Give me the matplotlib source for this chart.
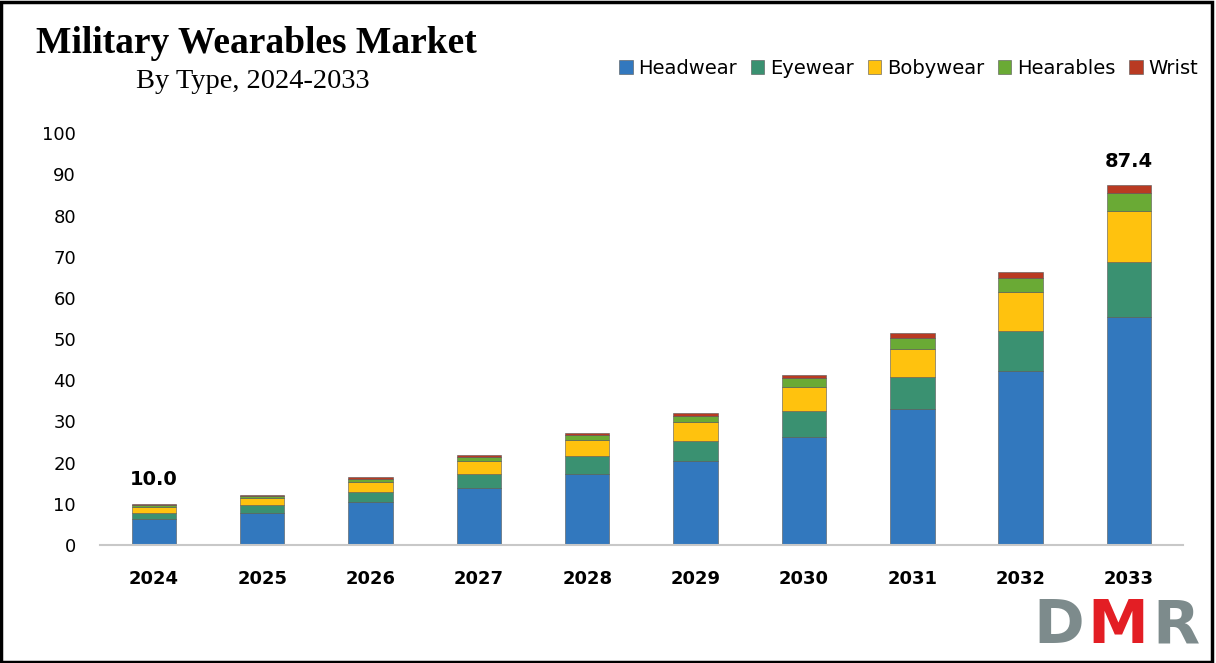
import numpy as np
import matplotlib.pyplot as plt
from matplotlib.patches import Rectangle

years = ["2024", "2025", "2026", "2027", "2028", "2029", "2030", "2031", "2032", "2033"]
headwear = [6.3, 7.8, 10.5, 13.9, 17.3, 20.3, 26.3, 33.0, 42.2, 55.3]
eyewear = [1.5, 1.8, 2.4, 3.3, 4.2, 5.0, 6.3, 7.8, 9.7, 13.4]
bobywear = [1.4, 1.7, 2.3, 3.1, 3.9, 4.5, 5.7, 6.8, 9.5, 12.4]
hearables = [0.5, 0.6, 0.8, 1.0, 1.3, 1.6, 2.2, 2.6, 3.4, 4.3]
wrist = [0.3, 0.3, 0.4, 0.5, 0.6, 0.7, 0.9, 1.4, 1.4, 2.0]
labels = {0: "10.0", 9: "87.4"}

series = [("Headwear", headwear, "#3278BE"),
          ("Eyewear", eyewear, "#3A9171"),
          ("Bobywear", bobywear, "#FFC20E"),
          ("Hearables", hearables, "#6AAA35"),
          ("Wrist", wrist, "#B93A22")]

fig = plt.figure(figsize=(12.16, 6.63), dpi=100)
ax = fig.add_axes([0.082, 0.178, 0.891, 0.621])

x = np.arange(len(years))
bottom = np.zeros(len(years))
for name, vals, col in series:
    ax.bar(x, vals, 0.41, bottom=bottom, color=col, label=name,
           edgecolor="#555555", linewidth=0.4)
    bottom += np.array(vals)

for i, txt in labels.items():
    ax.text(x[i], bottom[i] + 3.5, txt, ha="center", va="bottom",
            fontsize=14, fontweight="bold", family="DejaVu Sans")

ax.set_xlim(-0.5, len(years) - 0.5)
ax.set_ylim(0, 100)
ax.set_yticks(range(0, 101, 10))
ax.set_xticks(x)
ax.set_xticklabels(years, fontsize=13, fontweight="bold")
ax.tick_params(axis="y", labelsize=13, length=0, pad=17)
ax.tick_params(axis="x", length=0, pad=18)
for s in ["top", "right", "left"]:
    ax.spines[s].set_visible(False)
ax.spines["bottom"].set_color("#C8C8C8")
ax.spines["bottom"].set_linewidth(1.5)

fig.text(0.03, 0.935, "Military Wearables Market", family="Liberation Serif",
         fontsize=27, fontweight="bold", va="center")
fig.text(0.112, 0.877, "By Type, 2024-2033", family="Liberation Serif",
         fontsize=20.5, va="center")

fig.legend(loc="center right", bbox_to_anchor=(1.0, 0.897), ncol=5,
           frameon=False, fontsize=14, handlelength=0.7, handleheight=0.7,
           handletextpad=0.3, columnspacing=0.7)

# logo
fig.text(0.850, 0.03, "D", color="#7D8B8C", fontsize=44, fontweight="bold",
         va="baseline", ha="left", family="DejaVu Sans")
fig.text(0.894, 0.03, "M", color="#E31E24", fontsize=44, fontweight="bold",
         va="baseline", ha="left", family="DejaVu Sans")
fig.text(0.948, 0.03, "R", color="#7D8B8C", fontsize=44, fontweight="bold",
         va="baseline", ha="left", family="DejaVu Sans")

fig.patches.append(Rectangle((0.001, 0.002), 0.996, 0.995, transform=fig.transFigure,
                             fill=False, edgecolor="black", linewidth=2.5))

fig.savefig("out.png", dpi=100)
